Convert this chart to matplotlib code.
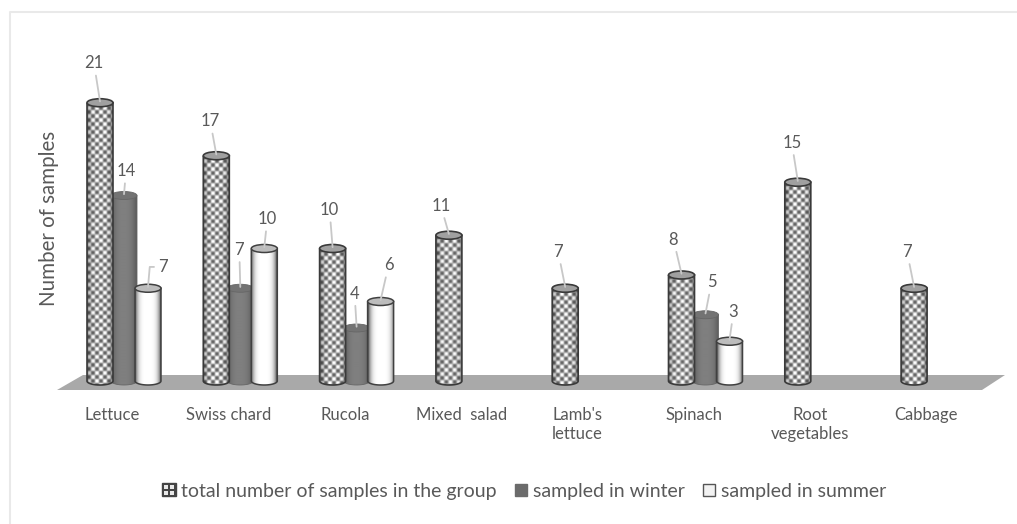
import numpy as np
import matplotlib
matplotlib.use("Agg")
import matplotlib.pyplot as plt
from matplotlib.path import Path
from matplotlib.patches import PathPatch, Ellipse, Polygon, Rectangle, Patch
from matplotlib.legend_handler import HandlerBase
from matplotlib.transforms import Affine2D

categories = ["Lettuce", "Swiss chard", "Rucola", "Mixed  salad", "Lamb's\nlettuce",
              "Spinach", "Root\nvegetables", "Cabbage"]
total = [21, 17, 10, 11, 7, 8, 15, 7]
winter = [14, 7, 4, 0, 0, 5, 0, 0]
summer = [7, 10, 6, 0, 0, 3, 0, 0]

# label offsets in pixels from the top of each bar
total_off = [(-6, 38), (-6, 33), (-3, 37), (-8, 28), (-7, 35), (-8, 34), (-6, 38), (-7, 35)]
winter_off = {0: (2, 23), 1: (-1, 37), 2: (-2, 33), 5: (6, 31)}
summer_off = {0: (15, 20), 1: (3, 28), 2: (8, 35), 5: (4, 28)}

W, H = 1017, 524
PX_X = 116.3
PX_Y = 13.25
Y0 = 381
TXT = "#595959"
plt.rcParams["font.family"] = ["Lato", "DejaVu Sans"]

fig = plt.figure(figsize=(W / 100, H / 100), dpi=100)
ax = fig.add_axes([0, 0, 1, 1])
xlim = (-124 / PX_X, (W - 124) / PX_X)
ylim = (-(H - Y0) / PX_Y, Y0 / PX_Y)
ax.axis("off")

# pixel coords, origin top left
px = Affine2D().scale(1, -1).translate(0, H)

# chart frame and floor
ax.plot([10, 10, 1017], [524, 12, 12], color="#e9e9e9", lw=1.5, transform=px)
ax.add_patch(Polygon([(57, 390), (83, 375), (1005, 375), (982, 390)], fc="#a9a9a9", ec="none",
                     transform=px, zorder=1))

bw = 26 / PX_X
step = 24 / PX_X
top_h = 8 / PX_Y


def shade(n, lo, hi, power=2.5):
    # dark edges, bright middle of the cylinder
    t = np.linspace(-1, 1, n)
    return hi + (lo - hi) * np.abs(t) ** power


def soften(a):
    # small blur so the checks look like the scanned original
    k = np.array([0.25, 0.5, 0.25])
    a = np.apply_along_axis(lambda r: np.convolve(r, k, mode="same"), 0, a)
    a = np.apply_along_axis(lambda r: np.convolve(r, k, mode="same"), 1, a)
    return a


def cylinder(x, v, kind, z):
    w = int(bw * PX_X)
    h = int((v + 0.6) * PX_Y)
    if kind == "total":
        jj, ii = np.meshgrid(np.arange(-4, w + 4), np.arange(-4, h + 4))
        check = soften(((ii // 4 + jj // 4) % 2).astype(float))[4:-4, 4:-4]
        img = (0.4 + 0.6 * check) * shade(w, 0.6, 1.0, 4)
        top_c, edge, lw = "#a0a0a0", "#3a3a3a", 1.2
    elif kind == "winter":
        img = np.tile(shade(w, 0.36, 0.5), (2, 1))
        top_c, edge, lw = "#737373", "#666666", 0.6
    else:
        img = np.tile(shade(w, 0.4, 1.0, 4), (2, 1))
        top_c, edge, lw = "#bcbcbc", "#404040", 1.1
    im = ax.imshow(img, extent=(x - bw / 2, x + bw / 2, -0.6, v), aspect="auto", cmap="gray",
                   vmin=0, vmax=1, interpolation="bilinear", zorder=z)
    t = np.linspace(np.pi, 2 * np.pi, 30)
    verts = [(x - bw / 2, v)] + list(zip(x + bw / 2 * np.cos(t), top_h / 2 * np.sin(t))) + [(x + bw / 2, v), (x - bw / 2, v)]
    body = Path(verts)
    im.set_clip_path(body, transform=ax.transData)
    ax.add_patch(PathPatch(body, fc="none", ec=edge, lw=lw, zorder=z + 0.1))
    ax.add_patch(Ellipse((x, v), bw, top_h, fc=top_c, ec=edge, lw=lw, zorder=z + 0.2))


def value_label(x, v, off, elbow=False):
    props = dict(arrowstyle="-", color="#c8c8c8", lw=1.3, shrinkA=1, shrinkB=0)
    if elbow:
        props.update(connectionstyle="angle,angleA=0,angleB=85,rad=0", relpos=(0, 0.5))
    ax.annotate(str(v), xy=(x, v + 0.1), xytext=off, textcoords="offset pixels", ha="center", va="center",
                fontsize=12, color=TXT, arrowprops=props, zorder=20)


for i, name in enumerate(categories):
    # winter sits behind its neighbours
    if winter[i]:
        cylinder(i, winter[i], "winter", 3)
        value_label(i, winter[i], winter_off[i])
    cylinder(i - step, total[i], "total", 4)
    value_label(i - step, total[i], total_off[i])
    if summer[i]:
        cylinder(i + step, summer[i], "summer", 5)
        value_label(i + step, summer[i], summer_off[i], elbow=(i == 0))
    two_line = "\n" in name
    ax.text(i - 0.1, -2.0 if two_line else -2.55, name, ha="center", va="top" if two_line else "center",
            fontsize=12, color=TXT, linespacing=1.2)

ax.set_xlim(*xlim)
ax.set_ylim(*ylim)

ax.text(49, 218, "Number of samples", transform=px, rotation=90, ha="center", va="center",
        fontsize=14.8, color=TXT)


class CheckerKey(HandlerBase):
    def create_artists(self, legend, orig_handle, xdescent, ydescent, width, height, fontsize, trans):
        s = 9.5
        x0, y0 = width - s, (height - s) / 2
        out = [Rectangle((x0, y0), s, s, fc="#444444", ec="#444444", lw=1, transform=trans)]
        c = s / 4.0
        for a, b in [(0.5, 0.5), (2.3, 0.5), (0.5, 2.3), (2.3, 2.3)]:
            out.append(Rectangle((x0 + a * c, y0 + b * c), c * 1.2, c * 1.2, fc="#e8e8e8", ec="none", transform=trans))
        return out


class SquareKey(HandlerBase):
    def create_artists(self, legend, orig_handle, xdescent, ydescent, width, height, fontsize, trans):
        s = 8.5
        return [Rectangle((width - s, (height - s) / 2), s, s, fc=orig_handle.get_facecolor(),
                          ec=orig_handle.get_edgecolor(), lw=1.0, transform=trans)]


h_total = Patch(fc="white", ec="#444444")
h_winter = Patch(fc="#6b6b6b", ec="#6b6b6b")
h_summer = Patch(fc="#f2f2f2", ec="#555555")
leg = ax.legend([h_total, h_winter, h_summer],
                ["total number of samples in the group", "sampled in winter", "sampled in summer"],
                handler_map={h_total: CheckerKey(), h_winter: SquareKey(), h_summer: SquareKey()},
                ncol=3, frameon=False, loc="center", bbox_to_anchor=(524 / W, 1 - 491 / H),
                bbox_transform=fig.transFigure, fontsize=14.0, labelcolor=TXT,
                handlelength=0.7, handletextpad=0.3, columnspacing=0.85, borderpad=0)

fig.savefig("out.png", dpi=100)
